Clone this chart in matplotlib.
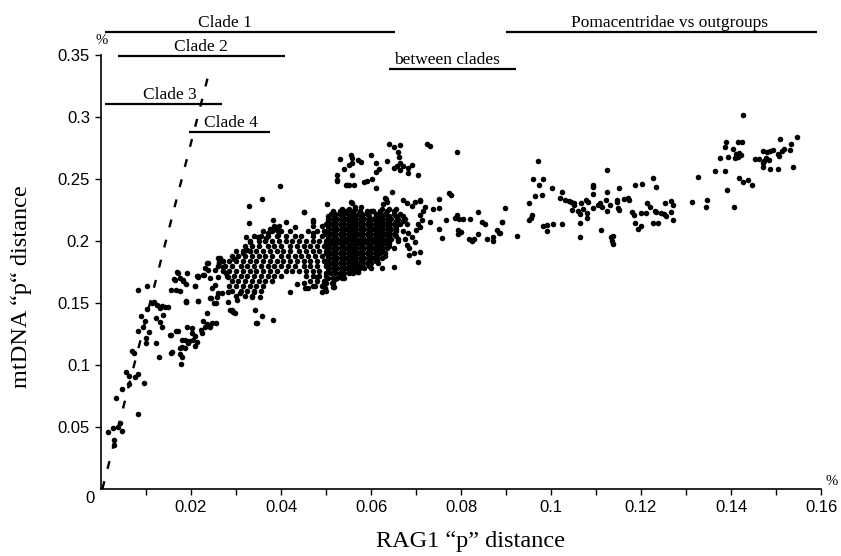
import matplotlib.pyplot as plt

# RAG1 vs mtDNA p-distances
low_pts = [
    (0.0015, 0.0462), (0.0027, 0.0489), (0.0037, 0.0502), (0.0042, 0.0535), (0.0047, 0.0470),
    (0.0028, 0.0395), (0.0029, 0.0355), (0.0083, 0.0605), (0.0033, 0.0734), (0.0047, 0.0804),
    (0.0055, 0.0946), (0.0062, 0.0911), (0.0063, 0.0847), (0.0076, 0.0901), (0.0082, 0.0927),
    (0.0096, 0.0852), (0.0068, 0.1115), (0.0074, 0.1094), (0.0082, 0.1277), (0.0100, 0.1215),
    (0.0100, 0.1180), (0.0107, 0.1269), (0.0122, 0.1180), (0.0089, 0.1395), (0.0098, 0.1355),
    (0.0094, 0.1309), (0.0103, 0.1449), (0.0113, 0.1503), (0.0118, 0.1511), (0.0124, 0.1484),
    (0.0131, 0.1457), (0.0135, 0.1476), (0.0142, 0.1470), (0.0148, 0.1465), (0.0138, 0.1403),
    (0.0122, 0.1377), (0.0082, 0.1605), (0.0103, 0.1637), (0.0136, 0.1309), (0.0129, 0.1067),
    (0.0156, 0.1094), (0.0156, 0.1242), (0.0166, 0.1277), (0.0172, 0.1277), (0.0156, 0.1605),
    (0.0167, 0.1605), (0.0163, 0.1691), (0.0170, 0.1744), (0.0176, 0.1699), (0.0183, 0.1680),
    (0.0188, 0.1653), (0.0188, 0.1511), (0.0178, 0.1008), (0.0181, 0.1067), (0.0176, 0.1140),
    (0.0187, 0.1140), (0.0181, 0.1202), (0.0196, 0.1194), (0.0205, 0.1202), (0.0209, 0.1234),
    (0.0209, 0.1153), (0.0203, 0.1296), (0.0222, 0.1282), (0.0225, 0.1261), (0.0227, 0.1357),
    (0.0235, 0.1417), (0.0242, 0.1309), (0.0255, 0.1336), (0.0215, 0.1516), (0.0209, 0.1637),
    (0.0216, 0.1718), (0.0227, 0.1726), (0.0231, 0.1780), (0.0242, 0.1699), (0.0246, 0.1619),
    (0.0242, 0.1538), (0.0255, 0.1497), (0.0261, 0.1578), (0.0237, 0.1820), (0.0262, 0.1833),
    (0.0261, 0.1860), (0.0214, 0.1718), (0.0189, 0.1511), (0.0168, 0.1747), (0.0164, 0.1685),
    (0.0176, 0.1599), (0.0190, 0.1744), (0.0183, 0.1685), (0.0253, 0.1766), (0.0253, 0.1645),
    (0.0257, 0.1551), (0.0251, 0.1497), (0.0272, 0.1793), (0.0277, 0.1739), (0.0261, 0.1712),
    (0.0283, 0.1712), (0.0268, 0.1578), (0.0283, 0.1511), (0.0287, 0.1444), (0.0294, 0.1430),
    (0.0342, 0.1444), (0.0346, 0.1341), (0.0357, 0.1398), (0.0383, 0.1363), (0.0335, 0.1551),
    (0.0353, 0.1551), (0.0339, 0.1591), (0.0131, 0.1349), (0.0153, 0.1242), (0.0192, 0.1309),
    (0.0202, 0.1261), (0.0187, 0.1202), (0.0179, 0.1148), (0.0176, 0.1089), (0.0194, 0.1180),
    (0.0214, 0.1188), (0.0231, 0.1304), (0.0235, 0.1331), (0.0247, 0.1336), (0.0157, 0.1107),
    (0.0290, 0.1444), (0.0298, 0.1422), (0.0344, 0.1341), (0.0282, 0.1591), (0.0302, 0.1524),
    (0.0309, 0.1578), (0.0420, 0.1591), (0.0436, 0.1653), (0.0459, 0.1619), (0.0451, 0.1659),
    (0.0479, 0.1712), (0.0494, 0.1645), (0.0501, 0.1599), (0.0516, 0.1632), (0.0490, 0.1591),
    (0.0498, 0.1619), (0.0476, 0.1637), (0.0453, 0.1619), (0.0244, 0.1543), (0.0216, 0.1516),
    (0.0189, 0.1516),
]

mid_pts = [
    (0.0398, 0.2444), (0.0357, 0.2336), (0.0329, 0.2285), (0.0329, 0.2148), (0.0451, 0.2231),
    (0.0503, 0.2301), (0.0410, 0.2156), (0.0431, 0.2111), (0.0472, 0.2156), (0.0472, 0.2062),
    (0.0383, 0.2169), (0.0384, 0.2115), (0.0390, 0.2089), (0.0393, 0.2048), (0.0376, 0.2094),
    (0.0370, 0.2062), (0.0367, 0.2022), (0.0348, 0.2035), (0.0322, 0.2035), (0.0331, 0.1994),
    (0.0324, 0.1927), (0.0316, 0.1906), (0.0296, 0.1857), (0.0264, 0.1860), (0.0263, 0.1825),
    (0.0235, 0.1820), (0.0238, 0.1766), (0.0229, 0.1726), (0.0216, 0.1712), (0.0209, 0.1637),
    (0.0450, 0.2237), (0.0472, 0.2170), (0.0557, 0.2309), (0.0564, 0.2272), (0.0578, 0.2272),
    (0.0600, 0.2245), (0.0633, 0.2336), (0.0646, 0.2398), (0.0631, 0.2344), (0.0635, 0.2317),
    (0.0626, 0.2298), (0.0556, 0.2312), (0.0540, 0.2242), (0.0604, 0.2242), (0.0672, 0.2331),
    (0.0690, 0.2282), (0.0698, 0.2317), (0.0710, 0.2331), (0.0681, 0.2309), (0.0709, 0.2325),
    (0.0716, 0.2245), (0.0720, 0.2277), (0.0709, 0.2210), (0.0713, 0.2169), (0.0705, 0.2135),
    (0.0683, 0.2062), (0.0690, 0.2035), (0.0700, 0.2089), (0.0709, 0.2115), (0.0698, 0.1994),
    (0.0679, 0.1968), (0.0684, 0.1941), (0.0684, 0.1887), (0.0696, 0.1906), (0.0709, 0.1914),
    (0.0705, 0.1833), (0.0624, 0.1780), (0.0650, 0.1788), (0.0567, 0.1793), (0.0570, 0.1748),
    (0.0518, 0.1632), (0.0513, 0.1659), (0.0520, 0.1691), (0.0531, 0.1726), (0.0539, 0.1699),
    (0.0572, 0.1752),
]

# dense band (clades 1-4), one row of RAG1 values per mtDNA level
band_rows = [
    (0.212, [0.0385, 0.0395, 0.047, 0.049]),
    (0.208, [0.036, 0.038, 0.040, 0.042, 0.046, 0.048, 0.0495]),
    (0.204, [0.034, 0.0355, 0.037, 0.039, 0.041, 0.043, 0.0445, 0.047, 0.049]),
    (0.200, [0.033, 0.035, 0.0365, 0.038, 0.0395, 0.041, 0.0425, 0.044, 0.0455, 0.047, 0.0485, 0.050]),
    (0.196, [0.032, 0.0335, 0.035, 0.037, 0.0385, 0.040, 0.042, 0.0435, 0.045, 0.0465, 0.048, 0.0495]),
    (0.192, [0.030, 0.0315, 0.033, 0.0345, 0.036, 0.0375, 0.039, 0.0405, 0.042, 0.044, 0.0455, 0.047, 0.0485, 0.050]),
    (0.188, [0.029, 0.0305, 0.032, 0.0335, 0.035, 0.0365, 0.038, 0.040, 0.0415, 0.043, 0.0445, 0.046, 0.0475, 0.049]),
    (0.184, [0.027, 0.0285, 0.030, 0.0315, 0.033, 0.0345, 0.036, 0.0375, 0.039, 0.0405, 0.042, 0.0435, 0.045, 0.0465, 0.048, 0.0495]),
    (0.180, [0.026, 0.0275, 0.029, 0.031, 0.0325, 0.034, 0.0355, 0.037, 0.0385, 0.040, 0.0415, 0.043, 0.045, 0.0465, 0.048, 0.050]),
    (0.176, [0.027, 0.0285, 0.030, 0.0315, 0.033, 0.0345, 0.036, 0.0375, 0.039, 0.041, 0.0425, 0.044, 0.0455, 0.047, 0.0485]),
    (0.172, [0.028, 0.0295, 0.031, 0.0325, 0.034, 0.0355, 0.037, 0.0385, 0.040, 0.0455, 0.047, 0.0485, 0.050]),
    (0.168, [0.029, 0.0305, 0.032, 0.0335, 0.035, 0.0365, 0.038, 0.0465, 0.048, 0.0495]),
    (0.164, [0.0285, 0.030, 0.0315, 0.033, 0.0345, 0.036, 0.047, 0.049]),
    (0.160, [0.029, 0.031, 0.0325, 0.034, 0.0355]),
    (0.156, [0.030, 0.032, 0.0335]),
]

# solid cluster around RAG1 0.05-0.068
core_rows = [
    (0.226, [0.0535, 0.055, 0.0565, 0.0625, 0.064, 0.0655]),
    (0.224, [0.0515, 0.053, 0.0545, 0.056, 0.0575, 0.059, 0.0605, 0.062, 0.0635, 0.065]),
    (0.222, [0.051, 0.052, 0.053, 0.054, 0.055, 0.056, 0.057, 0.058, 0.059, 0.061, 0.062, 0.063, 0.065, 0.0665]),
    (0.220, [0.0505, 0.052, 0.0535, 0.055, 0.0565, 0.058, 0.0595, 0.061, 0.0625, 0.064, 0.0655, 0.067]),
    (0.218, [0.0505, 0.0515, 0.0525, 0.0535, 0.0545, 0.0555, 0.0565, 0.0575, 0.0585, 0.0595, 0.0605, 0.0615, 0.0625, 0.0635, 0.0645, 0.066, 0.0675]),
    (0.216, [0.0505, 0.052, 0.0535, 0.055, 0.0565, 0.058, 0.0595, 0.061, 0.0625, 0.064, 0.0655, 0.067]),
    (0.214, [0.050, 0.051, 0.052, 0.053, 0.054, 0.055, 0.056, 0.057, 0.058, 0.059, 0.060, 0.061, 0.062, 0.063, 0.064, 0.065, 0.0665, 0.068]),
    (0.212, [0.0505, 0.052, 0.0535, 0.055, 0.0565, 0.058, 0.0595, 0.061, 0.0625, 0.064, 0.0655]),
    (0.210, [0.0505, 0.0515, 0.0525, 0.0535, 0.0545, 0.0555, 0.0565, 0.0575, 0.0585, 0.0595, 0.0605, 0.0615, 0.0625, 0.0635, 0.0645, 0.0655]),
    (0.208, [0.0505, 0.052, 0.0535, 0.055, 0.0565, 0.058, 0.0595, 0.061, 0.0625, 0.064, 0.0655, 0.067]),
    (0.206, [0.050, 0.051, 0.052, 0.053, 0.054, 0.055, 0.056, 0.057, 0.058, 0.059, 0.060, 0.061, 0.062, 0.063, 0.064, 0.065]),
    (0.204, [0.0505, 0.052, 0.0535, 0.055, 0.0565, 0.058, 0.0595, 0.061, 0.0625, 0.064, 0.0655]),
    (0.202, [0.0505, 0.0515, 0.0525, 0.0535, 0.0545, 0.0555, 0.0565, 0.0575, 0.0585, 0.0595, 0.0605, 0.0615, 0.0625, 0.0635, 0.0645, 0.066, 0.0675]),
    (0.200, [0.0505, 0.052, 0.0535, 0.055, 0.0565, 0.058, 0.0595, 0.061, 0.0625, 0.064, 0.066]),
    (0.198, [0.050, 0.051, 0.052, 0.053, 0.054, 0.055, 0.056, 0.057, 0.058, 0.059, 0.060, 0.061, 0.062, 0.063, 0.064]),
    (0.196, [0.0505, 0.052, 0.0535, 0.055, 0.0565, 0.058, 0.0595, 0.061, 0.0625, 0.064]),
    (0.194, [0.0505, 0.0515, 0.0525, 0.0535, 0.0545, 0.0555, 0.0565, 0.0575, 0.0585, 0.0595, 0.0605, 0.0615, 0.0625, 0.0635, 0.065]),
    (0.192, [0.0505, 0.052, 0.0535, 0.055, 0.0565, 0.058, 0.0595, 0.061, 0.0625]),
    (0.190, [0.050, 0.051, 0.052, 0.053, 0.054, 0.055, 0.056, 0.057, 0.058, 0.059, 0.060, 0.061, 0.062, 0.063]),
    (0.188, [0.0505, 0.052, 0.0535, 0.055, 0.0565, 0.058, 0.0595, 0.061, 0.063]),
    (0.186, [0.0505, 0.0515, 0.0525, 0.0535, 0.0545, 0.0555, 0.0565, 0.0575, 0.0585, 0.0595, 0.0605, 0.0615, 0.0625]),
    (0.184, [0.0505, 0.052, 0.0535, 0.055, 0.0565, 0.058, 0.0595, 0.061]),
    (0.182, [0.050, 0.051, 0.052, 0.053, 0.054, 0.055, 0.056, 0.057, 0.058, 0.059, 0.060, 0.0615]),
    (0.180, [0.0505, 0.052, 0.0535, 0.055, 0.0565, 0.058, 0.0595]),
    (0.178, [0.0505, 0.0515, 0.0525, 0.0535, 0.0545, 0.0555, 0.0565, 0.0575, 0.0585, 0.060]),
    (0.176, [0.0505, 0.052, 0.0535, 0.055, 0.0565]),
    (0.174, [0.050, 0.051, 0.052, 0.053, 0.054, 0.055, 0.056]),
    (0.170, [0.0505, 0.0515, 0.0525, 0.0535]),
    (0.166, [0.050, 0.0515]),
]

upper_pts = [
    (0.0639, 0.2782), (0.0652, 0.2756), (0.0664, 0.2774), (0.0599, 0.2691), (0.0556, 0.2691),
    (0.0557, 0.2669), (0.0531, 0.2661), (0.0571, 0.2653), (0.0577, 0.2637), (0.0550, 0.2616),
    (0.0558, 0.2627), (0.0539, 0.2581), (0.0524, 0.2535), (0.0524, 0.2486), (0.0557, 0.2535),
    (0.0544, 0.2452), (0.0551, 0.2452), (0.0563, 0.2452), (0.0584, 0.2473), (0.0592, 0.2486),
    (0.0602, 0.2502), (0.0611, 0.2554), (0.0618, 0.2581), (0.0611, 0.2627), (0.0636, 0.2648),
    (0.0650, 0.2586), (0.0657, 0.2605), (0.0664, 0.2632), (0.0672, 0.2605), (0.0683, 0.2586),
    (0.0690, 0.2616), (0.0659, 0.2720), (0.0663, 0.2680), (0.0664, 0.2573), (0.0683, 0.2551),
    (0.0704, 0.2535), (0.0611, 0.2430), (0.0725, 0.2782), (0.0731, 0.2766), (0.0791, 0.2718),
    (0.0525, 0.2492), (0.0546, 0.2452),
]

between_pts = [
    (0.0773, 0.2384), (0.0777, 0.2368), (0.0750, 0.2336), (0.0737, 0.2260), (0.0752, 0.2269),
    (0.0731, 0.2153), (0.0750, 0.2099), (0.0757, 0.2022), (0.0766, 0.2169), (0.0787, 0.2185),
    (0.0792, 0.2207), (0.0796, 0.2180), (0.0805, 0.2180), (0.0820, 0.2180), (0.0794, 0.2089),
    (0.0799, 0.2069), (0.0793, 0.2056), (0.0837, 0.2234), (0.0846, 0.2156), (0.0853, 0.2137),
    (0.0818, 0.2020), (0.0825, 0.1996), (0.0829, 0.2015), (0.0838, 0.2056), (0.0857, 0.2016),
    (0.0870, 0.2030), (0.0872, 0.2000), (0.0879, 0.2089), (0.0884, 0.2062), (0.0891, 0.2153),
    (0.0898, 0.2269), (0.0892, 0.2151), (0.0887, 0.2062), (0.0924, 0.2040),
]

far_pts = [
    (0.0972, 0.2648), (0.0961, 0.2502), (0.0983, 0.2502), (0.0973, 0.2452), (0.0965, 0.2363),
    (0.0979, 0.2368), (0.0952, 0.2309), (0.1002, 0.2430), (0.1024, 0.2398), (0.0958, 0.2210),
    (0.0955, 0.2188), (0.0951, 0.2172), (0.0983, 0.2121), (0.0992, 0.2126), (0.1004, 0.2134),
    (0.0990, 0.2081), (0.1024, 0.2140), (0.1019, 0.2347), (0.1031, 0.2331), (0.1039, 0.2325),
    (0.1044, 0.2317), (0.1050, 0.2304), (0.1051, 0.2290), (0.1046, 0.2250), (0.1059, 0.2242),
    (0.1064, 0.2215), (0.1072, 0.2255), (0.1081, 0.2228), (0.1067, 0.2309), (0.1078, 0.2331),
    (0.1082, 0.2315), (0.1064, 0.2148), (0.1079, 0.2183), (0.1064, 0.2032), (0.1093, 0.2452),
    (0.1093, 0.2433), (0.1093, 0.2379), (0.1093, 0.2269), (0.1104, 0.2290), (0.1109, 0.2304),
    (0.1113, 0.2277), (0.1124, 0.2398), (0.1125, 0.2575), (0.1122, 0.2331), (0.1125, 0.2245),
    (0.1132, 0.2288), (0.1112, 0.2089), (0.1133, 0.2030), (0.1138, 0.2040), (0.1135, 0.2002),
    (0.1138, 0.1976), (0.1146, 0.2331), (0.1146, 0.2315), (0.1149, 0.2269), (0.1151, 0.2250),
    (0.1150, 0.2427), (0.1163, 0.2336), (0.1170, 0.2344), (0.1173, 0.2331), (0.1186, 0.2452),
    (0.1202, 0.2462), (0.1180, 0.2234), (0.1184, 0.2207), (0.1201, 0.2223), (0.1211, 0.2223),
    (0.1186, 0.2142), (0.1194, 0.2097), (0.1201, 0.2121), (0.1214, 0.2304), (0.1221, 0.2277),
    (0.1227, 0.2508), (0.1233, 0.2433), (0.1231, 0.2242), (0.1233, 0.2231), (0.1227, 0.2148),
    (0.1238, 0.2148), (0.1244, 0.2223), (0.1251, 0.2218), (0.1255, 0.2204), (0.1253, 0.2309),
    (0.1266, 0.2323), (0.1270, 0.2290), (0.1266, 0.2231), (0.1272, 0.2172),
]

outgroup_pts = [
    (0.1427, 0.3020), (0.1388, 0.2800), (0.1416, 0.2800), (0.1425, 0.2800), (0.1387, 0.2755),
    (0.1405, 0.2744), (0.1418, 0.2710), (0.1412, 0.2700), (0.1422, 0.2690), (0.1415, 0.2680),
    (0.1409, 0.2667), (0.1376, 0.2667), (0.1394, 0.2680), (0.1365, 0.2565), (0.1386, 0.2565),
    (0.1327, 0.2514), (0.1418, 0.2506), (0.1427, 0.2478), (0.1438, 0.2494), (0.1446, 0.2449),
    (0.1391, 0.2409), (0.1346, 0.2328), (0.1344, 0.2274), (0.1313, 0.2317), (0.1406, 0.2274),
    (0.1508, 0.2823), (0.1547, 0.2839), (0.1534, 0.2782), (0.1518, 0.2742), (0.1513, 0.2728),
    (0.1532, 0.2734), (0.1504, 0.2699), (0.1507, 0.2683), (0.1472, 0.2726), (0.1481, 0.2715),
    (0.1493, 0.2734), (0.1487, 0.2723), (0.1478, 0.2667), (0.1485, 0.2651), (0.1473, 0.2645),
    (0.1453, 0.2661), (0.1462, 0.2661), (0.1470, 0.2632), (0.1471, 0.2599), (0.1486, 0.2581),
    (0.1505, 0.2581), (0.1538, 0.2599),
]

# saturation line (dashed)
line_x = [0.0003, 0.0243]
line_y = [0.0, 0.340]

# group ranges drawn above the plot
range_names = ['Clade 1', 'Clade 2', 'Clade 3', 'Clade 4', 'between clades', 'Pomacentridae vs outgroups']
range_start = [0.0009, 0.0038, 0.0009, 0.0196, 0.0640, 0.0900]
range_end = [0.0653, 0.0409, 0.0269, 0.0376, 0.0922, 0.1590]
range_level = [0.3685, 0.3490, 0.3105, 0.2880, 0.3387, 0.3685]
label_x = [0.0276, 0.0222, 0.0153, 0.0289, 0.0769, 0.1264]

xs, ys = [], []
for pts in [low_pts, mid_pts, upper_pts, between_pts, far_pts, outgroup_pts]:
    xs += [p[0] for p in pts]
    ys += [p[1] for p in pts]
for rows in [band_rows, core_rows]:
    for yv, row in rows:
        xs += row
        ys += [yv] * len(row)

plt.rcParams['font.family'] = 'Liberation Serif'

fig = plt.figure(figsize=(8.41, 5.56), dpi=100)
ax = fig.add_axes([101 / 841, 67 / 556, 720 / 841, 489 / 556])

ax.scatter(xs, ys, s=16, color='black', linewidths=0, zorder=3)
ax.plot(line_x, line_y, color='black', lw=1.7, linestyle=(0, (3.4, 5.4)))

for name, x0, x1, lvl, lx in zip(range_names, range_start, range_end, range_level, label_x):
    ax.plot([x0, x1], [lvl, lvl], color='black', lw=1.6, solid_capstyle='butt')
    ax.text(lx, lvl + 0.0075, name, ha='center', va='center', fontsize=12.5)

ax.set_xlim(0, 0.16)
ax.set_ylim(0, 489 / 1240)
ax.spines['top'].set_visible(False)
ax.spines['right'].set_visible(False)
ax.spines['left'].set_bounds(0, 0.35)
ax.spines['bottom'].set_bounds(0, 0.16)
ax.spines['left'].set_linewidth(1.2)
ax.spines['bottom'].set_linewidth(1.2)

xt = [0.01 * i for i in range(1, 17)]
ax.set_xticks(xt)
ax.set_xticklabels(['' if i % 2 else f'{v:g}' for i, v in enumerate(xt, 1)],
                   family='Liberation Sans', fontsize=12)
yt = [0.05, 0.1, 0.15, 0.2, 0.25, 0.3, 0.35]
ax.set_yticks(yt)
ax.set_yticklabels([f'{v:g}' for v in yt], family='Liberation Sans', fontsize=12)
ax.tick_params(direction='out', length=4, width=1, pad=4)

ax.text(-0.0015, -0.002, '0', ha='right', va='top', family='Liberation Sans', fontsize=12)
ax.text(0.0002, 0.362, '%', ha='center', va='center', fontsize=10.5)
ax.text(0.1624, 0.006, '%', ha='center', va='center', fontsize=10.5, clip_on=False)

fig.text(470 / 841, 1 - 541 / 556, 'RAG1 \u201cp\u201d distance', ha='center', va='center', fontsize=17.5)
fig.text(22 / 841, 1 - 287 / 556, 'mtDNA \u201cp\u201c distance', ha='center', va='center',
         rotation=90, fontsize=17.5)

fig.savefig('out.png', dpi=100)
